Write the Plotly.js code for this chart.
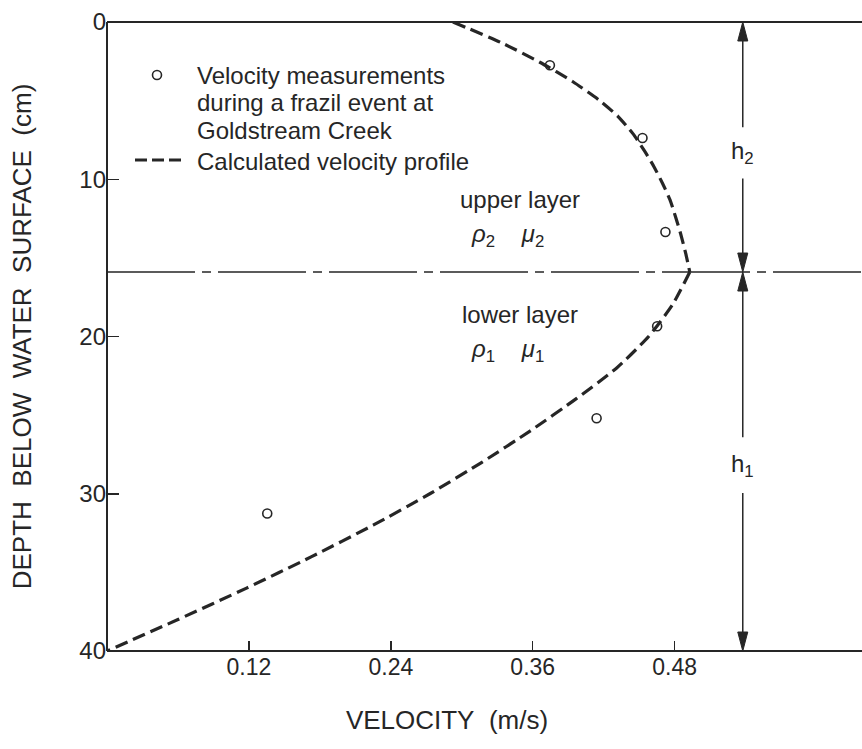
<!DOCTYPE html>
<html>
<head>
<meta charset="utf-8">
<script src="https://cdn.plot.ly/plotly-3.0.1.min.js"></script>
<style>html,body{margin:0;padding:0;background:#fff;}#chart{width:862px;height:749px;}</style>
</head>
<body>
<div id="chart"></div>
<script>
// ---- data ----
const measVelocity = [0.3745, 0.4528, 0.4722, 0.4652, 0.414, 0.1355];
const measDepth    = [2.75, 7.38, 13.35, 19.35, 25.2, 31.26];

// calculated profile, upper layer (surface -> interface)
const upperVelocity = [0.2925, 0.333, 0.366, 0.394, 0.4167, 0.432, 0.4447, 0.4545, 0.4625, 0.470, 0.476, 0.4808, 0.4850, 0.4893, 0.4928];
const upperDepth    = [0, 1.3, 2.56, 3.8, 5.0, 6.0, 7.1, 8.2, 9.2, 10.3, 11.3, 12.4, 13.45, 14.7, 15.9];
// calculated profile, lower layer (interface -> bed)
const lowerVelocity = [0.4928, 0.478, 0.458, 0.431, 0.396, 0.358, 0.317, 0.273, 0.225, 0.173, 0.118, 0.060, 0];
const lowerDepth    = [15.9, 18, 20, 22, 24, 26, 28, 30, 32, 34, 36, 38, 40];

const xTickVals = [0.12, 0.24, 0.36, 0.48];
const xTickText = ['0.12', '0.24', '0.36', '0.48'];
const yTickVals = [0, 10, 20, 30, 40];
const yTickText = ['0', '10', '20', '30', '40'];

const interfaceDepth = 15.9;
const h2Label = 'h<sub>2</sub>';
const h1Label = 'h<sub>1</sub>';
const legendLines = ['Velocity measurements', 'during a frazil event at', 'Goldstream Creek'];
const legendLine2 = 'Calculated velocity profile';

// ---- layout helpers ----
const W = 862, H = 749;
const L = 107, T = 22, PW = 680, PH = 629;
const px = v => (v - L) / PW;        // pixel x -> paper
const py = v => 1 - (v - T) / PH;    // pixel y -> paper
const ink = '#262626';
const FONT = 'Liberation Sans, Arial, Helvetica, sans-serif';
const arrowX = 0.5376;

const curveLine = {color: ink, width: 3.2, dash: '13px,6px', shape: 'spline', smoothing: 0.6};
const traces = [
  {x: upperVelocity, y: upperDepth, type: 'scatter', mode: 'lines', line: curveLine, showlegend: false, hoverinfo: 'skip'},
  {x: lowerVelocity, y: lowerDepth, type: 'scatter', mode: 'lines', line: curveLine, showlegend: false, hoverinfo: 'skip', cliponaxis: false},
  {
    x: measVelocity, y: measDepth, type: 'scatter', mode: 'markers',
    marker: {symbol: 'circle-open', size: 9, color: ink, line: {width: 1.6, color: ink}},
    showlegend: false, cliponaxis: false
  }
];

const frame = {color: ink, width: 2};
const shapes = [
  {type: 'line', xref: 'paper', yref: 'paper', x0: 0, x1: px(W), y0: 1, y1: 1, line: frame},
  {type: 'line', xref: 'paper', yref: 'paper', x0: 0, x1: px(W), y0: 0, y1: 0, line: frame},
  {type: 'line', xref: 'paper', yref: 'paper', x0: 0, x1: 0, y0: 0, y1: 1, line: frame},
  // interface between layers
  {type: 'line', xref: 'paper', yref: 'y', x0: 0, x1: px(W), y0: interfaceDepth, y1: interfaceDepth,
   line: {color: ink, width: 1.5, dash: '88px,7px,9px,7px'}},
  // h2 arrow shafts
  {type: 'line', xref: 'x', yref: 'y', x0: arrowX, x1: arrowX, y0: 0.9, y1: 6.7, line: {color: ink, width: 1.5}},
  {type: 'line', xref: 'x', yref: 'y', x0: arrowX, x1: arrowX, y0: 9.95, y1: interfaceDepth - 0.9, line: {color: ink, width: 1.5}},
  // h1 arrow shafts
  {type: 'line', xref: 'x', yref: 'y', x0: arrowX, x1: arrowX, y0: interfaceDepth + 0.9, y1: 26.4, line: {color: ink, width: 1.5}},
  {type: 'line', xref: 'x', yref: 'y', x0: arrowX, x1: arrowX, y0: 29.95, y1: 39.1, line: {color: ink, width: 1.5}},
];
function head(depth, up) {
  const p = up ? 'M0,0 L-5,-19 L5,-19 Z' : 'M0,0 L-5,19 L5,19 Z';
  return {type: 'path', xref: 'x', yref: 'y', xsizemode: 'pixel', ysizemode: 'pixel',
          xanchor: arrowX, yanchor: depth, path: p, fillcolor: ink, line: {color: ink, width: 1}};
}
shapes.push(head(0, true), head(interfaceDepth, false), head(interfaceDepth, true), head(40, false));
// legend keys
shapes.push({type: 'circle', xref: 'paper', yref: 'paper', x0: px(152.5), x1: px(161.5), y0: py(79.5), y1: py(70.5),
             line: {color: ink, width: 1.6}});
shapes.push({type: 'line', xref: 'paper', yref: 'paper', x0: px(135), x1: px(182), y0: py(160), y1: py(160),
             line: {color: ink, width: 3.2, dash: '12px,5px'}});

const annFont = {family: FONT, size: 24, color: ink};
const annotations = [];
legendLines.forEach((t, i) => {
  annotations.push({xref: 'paper', yref: 'paper', x: px(195), y: py(76 + i * 27), text: t, showarrow: false,
                    xanchor: 'left', yanchor: 'middle', font: annFont});
});
annotations.push({xref: 'paper', yref: 'paper', x: px(195), y: py(161), text: legendLine2, showarrow: false,
                  xanchor: 'left', yanchor: 'middle', font: annFont});
annotations.push({xref: 'x', yref: 'y', x: 0.349, y: 11.3, text: 'upper layer', showarrow: false, font: annFont});
annotations.push({xref: 'x', yref: 'y', x: 0.339, y: 13.6, text: '<i>ρ</i><sub>2</sub>\u00a0\u00a0\u00a0\u00a0<i>μ</i><sub>2</sub>', showarrow: false, font: annFont});
annotations.push({xref: 'x', yref: 'y', x: 0.349, y: 18.6, text: 'lower layer', showarrow: false, font: annFont});
annotations.push({xref: 'x', yref: 'y', x: 0.339, y: 20.9, text: '<i>ρ</i><sub>1</sub>\u00a0\u00a0\u00a0\u00a0<i>μ</i><sub>1</sub>', showarrow: false, font: annFont});
annotations.push({xref: 'x', yref: 'y', x: arrowX, y: 8.3, text: h2Label, showarrow: false, font: annFont});
annotations.push({xref: 'x', yref: 'y', x: arrowX, y: 28.2, text: h1Label, showarrow: false, font: annFont});

const layout = {
  width: W, height: H,
  margin: {l: L, r: W - L - PW, t: T, b: H - T - PH, pad: 0},
  paper_bgcolor: '#fff', plot_bgcolor: '#fff',
  showlegend: false,
  font: {family: FONT, color: ink},
  xaxis: {
    range: [0, 0.575], tickvals: xTickVals, ticktext: xTickText,
    ticks: 'inside', ticklen: 10, tickwidth: 1.5, tickcolor: ink,
    showline: false, showgrid: false, zeroline: false, automargin: false,
    tickfont: {family: FONT, size: 23, color: ink},
    title: {text: 'VELOCITY\u00a0 (m/s)', font: {family: FONT, size: 26, color: ink}, standoff: 31}
  },
  yaxis: {
    range: [40, 0], tickvals: yTickVals, ticktext: yTickText,
    ticks: 'inside', ticklen: 12, tickwidth: 1.5, tickcolor: ink,
    showline: false, showgrid: false, zeroline: false, automargin: false,
    tickfont: {family: FONT, size: 24, color: ink},
    title: {text: 'DEPTH\u00a0 BELOW\u00a0 WATER\u00a0 SURFACE\u00a0 (cm)', font: {family: FONT, size: 26, color: ink}, standoff: 40}
  },
  shapes: shapes,
  annotations: annotations
};

Plotly.newPlot('chart', traces, layout, {displayModeBar: false, staticPlot: true});
</script>
</body>
</html>
